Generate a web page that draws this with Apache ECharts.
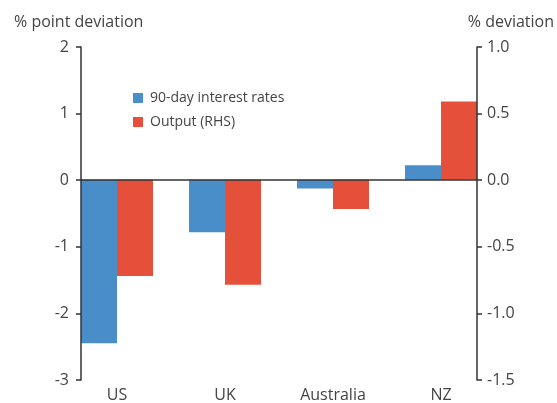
<!DOCTYPE html>
<html><head><meta charset="utf-8">
<script src="https://cdn.jsdelivr.net/npm/echarts@6/dist/echarts.min.js"></script>
<style>html,body{margin:0;padding:0;background:#fff}#c{width:557px;height:403px}</style>
</head><body><div id="c"></div>
<script>
const categories = ['US', 'UK', 'Australia', 'NZ'];
const rates = [-2.46, -0.79, -0.13, 0.22];
const output = [-0.725, -0.79, -0.22, 0.59];
const leftTicks = {min: -3, max: 2, interval: 1};
const rightTicks = {min: -1.5, max: 1.0, interval: 0.5};
const seriesNames = ['90-day interest rates', 'Output (RHS)'];
const colors = ['#4a8ec9', '#e5503a'];
const FONT = 'Open Sans';
const TXT = '#444';
const axisLineStyle = {color: '#333', width: 1.5};
const chart = echarts.init(document.getElementById('c'));
chart.setOption({
  animation: false,
  textStyle: {fontFamily: FONT},
  grid: [
    {left: 81, right: 80, top: 47, bottom: 23},
    {left: 117, right: 116, top: 47, bottom: 23}
  ],
  legend: {
    orient: 'vertical', left: 128, top: 86, itemWidth: 10, itemHeight: 10, itemGap: 10,
    icon: 'rect', data: seriesNames,
    textStyle: {fontFamily: FONT, fontSize: 14, color: TXT, padding: [0, 0, 0, 2]}
  },
  graphic: [
    {type: 'text', left: 14, top: 14, style: {text: '% point deviation', font: '16px "' + FONT + '"', fill: TXT}},
    {type: 'text', right: 3, top: 14, style: {text: '% deviation', font: '16px "' + FONT + '"', fill: TXT}}
  ],
  xAxis: [
    {type: 'category', gridIndex: 0, data: categories, position: 'bottom', z: 5,
     axisLine: {show: true, onZero: true, lineStyle: axisLineStyle},
     axisTick: {show: false}, axisLabel: {show: false}},
    {type: 'category', gridIndex: 1, data: categories, position: 'bottom', boundaryGap: false,
     axisLine: {show: false, onZero: false}, axisTick: {show: false},
     axisLabel: {margin: 8, fontSize: 16, color: TXT, fontFamily: FONT}}
  ],
  yAxis: [
    {type: 'value', gridIndex: 0, min: leftTicks.min, max: leftTicks.max, interval: leftTicks.interval,
     position: 'left', z: 5,
     axisLine: {show: true, onZero: false, lineStyle: axisLineStyle},
     axisTick: {show: true, length: 5, lineStyle: axisLineStyle},
     splitLine: {show: false},
     axisLabel: {margin: 12, fontSize: 16, color: TXT, fontFamily: FONT}},
    {type: 'value', gridIndex: 0, min: rightTicks.min, max: rightTicks.max, interval: rightTicks.interval,
     position: 'right', z: 5,
     axisLine: {show: true, onZero: false, lineStyle: axisLineStyle},
     axisTick: {show: true, length: 5, lineStyle: axisLineStyle},
     splitLine: {show: false},
     axisLabel: {margin: 10, fontSize: 16, color: TXT, fontFamily: FONT,
       formatter: v => v.toFixed(1)}},
    {type: 'value', gridIndex: 1, min: leftTicks.min, max: leftTicks.max, interval: leftTicks.interval,
     show: false, splitLine: {show: false}},
    {type: 'value', gridIndex: 1, min: rightTicks.min, max: rightTicks.max, interval: rightTicks.interval,
     show: false, splitLine: {show: false}}
  ],
  series: [
    {name: seriesNames[0], type: 'bar', data: rates, xAxisIndex: 1, yAxisIndex: 2,
     itemStyle: {color: colors[0]}, barWidth: 36, barGap: '0%'},
    {name: seriesNames[1], type: 'bar', data: output, xAxisIndex: 1, yAxisIndex: 3,
     itemStyle: {color: colors[1]}, barWidth: 36, barGap: '0%'}
  ]
});
</script></body></html>
